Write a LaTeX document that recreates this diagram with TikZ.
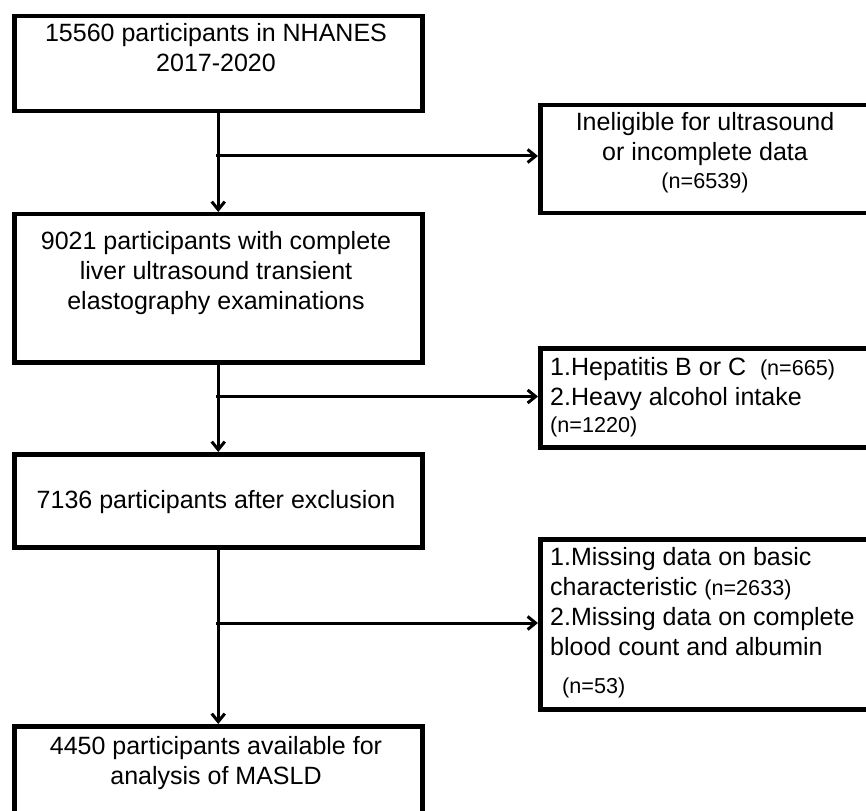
\documentclass[tikz,border=0pt]{standalone}
\usepackage{fontspec}
\setmainfont{Liberation Sans}
\usetikzlibrary{arrows.meta}
\tikzset{
  flowbox/.style={draw=black, line width=4.5pt, rectangle, inner sep=0pt, anchor=north west},
  conn/.style={draw=black, line width=3pt},
  arr/.style={conn, -{Straight Barb[length=8pt,width=13pt,line width=3pt]}},
  txt/.style={inner sep=0pt, font=\fontsize{25}{30}\selectfont},
}
\newcommand{\smalln}[1]{{\fontsize{21.6}{26}\selectfont #1}}
\begin{document}
\begin{tikzpicture}[x=1pt,y=-1pt]
\useasboundingbox (0,0) rectangle (866,810);
\clip (0,0) rectangle (866,810);
\fill[white] (0,0) rectangle (866,810);
% main column boxes
\node[flowbox, minimum width=408pt, minimum height=95pt]  (b1) at (12,14) {};
\node[flowbox, minimum width=408pt, minimum height=148pt] (b2) at (12,212) {};
\node[flowbox, minimum width=408pt, minimum height=93pt]  (b3) at (12,452) {};
\node[flowbox, minimum width=408pt, minimum height=130pt] (b4) at (12,724) {};
% side boxes
\node[flowbox, minimum width=380pt, minimum height=108pt] (r1) at (538,103) {};
\node[flowbox, minimum width=380pt, minimum height=99pt]  (r2) at (538,346) {};
\node[flowbox, minimum width=380pt, minimum height=170pt] (r3) at (538,537) {};
% texts
\node[txt, anchor=north, align=center] (t1) at (216,23.5) {15560 participants in NHANES\\2017-2020};
\node[txt, anchor=north, align=center] (t2) at (216,231.5) {9021 participants with complete\\liver ultrasound transient\\elastography examinations};
\node[txt, anchor=north, align=center] (t3) at (216,490) {7136 participants after exclusion};
\node[txt, anchor=north, align=center] (t4) at (216,736) {4450 participants available for\\analysis of MASLD};
\node[txt, anchor=north, align=center] (s1) at (705,112) {Ineligible for ultrasound\\or incomplete data\\[-2pt]\smalln{(n=6539)}};
\node[txt, anchor=north west, align=left] (s2) at (550,357) {1.Hepatitis B or C\ \ \smalln{(n=665)}\\2.Heavy alcohol intake\\[-3pt]\smalln{(n=1220)}};
\node[txt, anchor=north west, align=left] (s3) at (550,547) {1.Missing data on basic\\characteristic \smalln{(n=2633)}\\2.Missing data on complete\\blood count and albumin\\[8pt]\hspace*{12pt}\smalln{(n=53)}};
% junctions
\coordinate (j1) at (216,156);
\coordinate (j2) at (216,396.5);
\coordinate (j3) at (216,623);
% connectors
\draw[arr] (b1.south) -- (b2.north);
\draw[arr] (b2.south) -- (b3.north);
\draw[arr] (b3.south) -- (b4.north);
\draw[arr] (j1) -- (j1 -| r1.west);
\draw[arr] (j2) -- (j2 -| r2.west);
\draw[arr] (j3) -- (j3 -| r3.west);
\end{tikzpicture}
\end{document}
